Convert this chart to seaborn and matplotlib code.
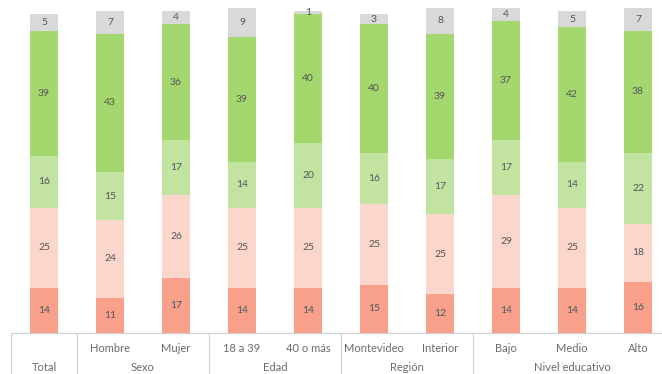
import pandas as pd
import matplotlib
matplotlib.use('Agg')
import matplotlib.pyplot as plt
import seaborn as sns

# Data (bottom to top segments)
categories = ['Total', 'Hombre', 'Mujer', '18 a 39', '40 o más',
              'Montevideo', 'Interior', 'Bajo', 'Medio', 'Alto']
tick_labels = ['', 'Hombre', 'Mujer', '18 a 39', '40 o más',
               'Montevideo', 'Interior', 'Bajo', 'Medio', 'Alto']
groups = ['Total', 'Sexo', 'Edad', 'Región', 'Nivel educativo']
group_centers = [0, 1.5, 3.5, 5.5, 8]
separators = [-0.5, 0.5, 2.5, 4.5, 6.5]

muy_mal = [14, 11, 17, 14, 14, 15, 12, 14, 14, 16]
mal = [25, 24, 26, 25, 25, 25, 25, 29, 25, 18]
regular = [16, 15, 17, 14, 20, 16, 17, 17, 14, 22]
bien = [39, 43, 36, 39, 40, 40, 39, 37, 42, 38]
ns_nc = [5, 7, 4, 9, 1, 3, 8, 4, 5, 7]

series = [muy_mal, mal, regular, bien, ns_nc]
colors = ['#F8A08A', '#FBD6CB', '#C3E4A0', '#A4D76D', '#D9D9D9']

sns.set_style('white')
plt.rcParams['font.family'] = ['Lato', 'DejaVu Sans']

df = pd.DataFrame({'cat': categories})
cum = []
running = [0] * len(categories)
for s in series:
    running = [a + b for a, b in zip(running, s)]
    cum.append(list(running))

fig = plt.figure(figsize=(6.62, 3.74), dpi=100)
ax = fig.add_axes([11 / 662, 41 / 374, 651 / 662, 325 / 374])

# draw cumulative bars from tallest to shortest
for top, color in zip(reversed(cum), reversed(colors)):
    df['val'] = top
    sns.barplot(data=df, x='cat', y='val', color=color, width=0.41,
                saturation=1, ax=ax, order=categories,
                linewidth=0, edgecolor='none')

# segment labels
for i in range(len(categories)):
    base = 0
    for s in series:
        v = s[i]
        ax.text(i, base + v / 2, str(v), ha='center', va='center',
                fontsize=7.5, color='#555555')
        base += v

ax.set_xlim(-0.5, (662 - 44) / 66)
ax.set_ylim(0, 101)
ax.set_xticks([])
ax.set_yticks([])
ax.set_xlabel('')
ax.set_ylabel('')
for sp in ['top', 'right', 'left']:
    ax.spines[sp].set_visible(False)
ax.spines['bottom'].set_color('#cfcfcf')
ax.spines['bottom'].set_linewidth(0.8)

# category labels under the axis
for i, lab in enumerate(tick_labels):
    ax.text(i, -4.7, lab, ha='center', va='center', fontsize=8,
            color='#6a6a6a', clip_on=False)
for g, c in zip(groups, group_centers):
    ax.text(c, -10.6, g, ha='center', va='center', fontsize=8,
            color='#6a6a6a', clip_on=False)
for x in separators:
    ax.plot([x, x], [0, -13], color='#cfcfcf', lw=0.8, clip_on=False)

fig.savefig('out.png', dpi=100)
